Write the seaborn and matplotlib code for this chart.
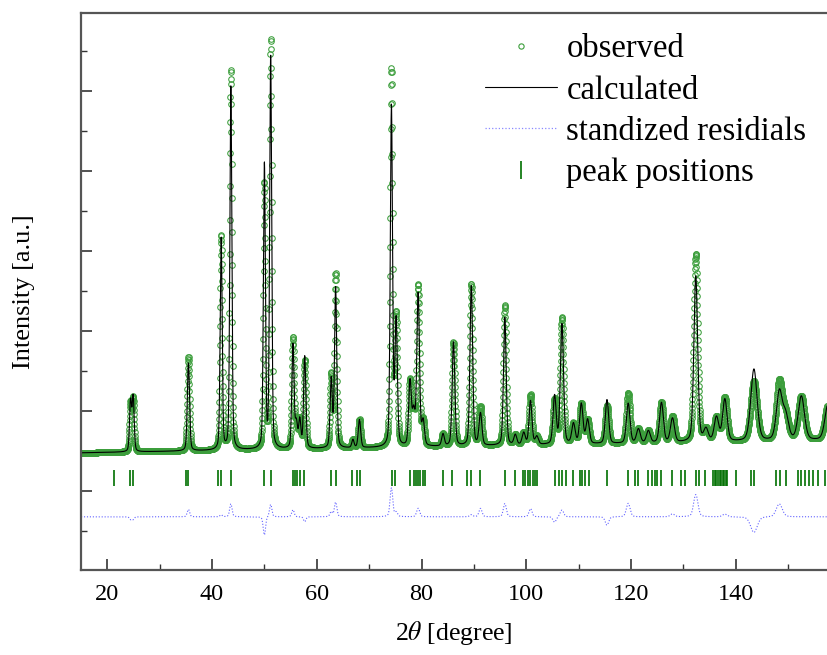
import numpy as np
import seaborn as sns
import matplotlib
matplotlib.use("Agg")
import matplotlib.pyplot as plt
from matplotlib.lines import Line2D
from matplotlib.ticker import MultipleLocator

# --- refined profile parameters (intensity in 1000 counts) ---
prof_pos = [24.45, 24.95, 35.5, 41.75, 43.6, 50.0, 51.2, 55.45, 56.1, 56.75,
            57.7, 62.75, 63.6, 66.9, 68.15, 74.25, 75.15, 77.8, 78.5, 79.35,
            80.3, 84.1, 86.1, 89.5, 91.25, 95.9, 97.9, 99.5, 100.8, 102.0,
            105.4, 106.8, 109.0, 110.5, 111.7, 115.4, 119.45, 121.4, 123.3, 125.8,
            127.9, 132.35, 134.3, 136.3, 137.9, 143.45, 148.3, 149.5, 152.5, 157.6]
calc_height = [1.25, 1.35, 2.2, 5.3, 9.1, 7.1, 9.8, 2.6, 0.6, 0.7,
               2.3, 1.7, 4.0, 0.2, 0.7, 8.5, 3.1, 1.6, 0.8, 3.8,
               0.6, 0.3, 2.6, 4.0, 0.8, 3.2, 0.25, 0.3, 1.1, 0.2,
               1.2, 3.0, 0.5, 1.0, 0.6, 1.1, 1.0, 0.35, 0.3, 1.0,
               0.6, 4.15, 0.3, 0.6, 1.05, 1.8, 1.2, 0.6, 1.1, 0.9]
obs_height = [1.2, 1.3, 2.35, 5.35, 9.5, 6.6, 10.2, 2.75, 0.6, 0.7,
              2.2, 1.8, 4.35, 0.2, 0.7, 9.4, 3.2, 1.6, 0.8, 4.0,
              0.6, 0.3, 2.6, 4.05, 0.95, 3.5, 0.25, 0.3, 1.25, 0.2,
              1.1, 3.15, 0.5, 1.0, 0.6, 0.95, 1.25, 0.35, 0.3, 1.0,
              0.65, 4.7, 0.3, 0.6, 1.1, 1.5, 1.45, 0.6, 1.1, 0.9]
prof_fwhm = [0.45, 0.45, 0.5, 0.45, 0.45, 0.45, 0.45, 0.5, 0.5, 0.5,
             0.5, 0.5, 0.5, 0.5, 0.55, 0.5, 0.55, 0.6, 0.6, 0.6,
             0.6, 0.6, 0.6, 0.6, 0.65, 0.6, 0.65, 0.7, 0.65, 0.7,
             0.7, 0.7, 0.75, 0.75, 0.75, 0.75, 0.8, 0.85, 0.85, 0.85,
             0.9, 0.85, 1.0, 1.0, 1.0, 1.4, 1.3, 1.3, 1.4, 1.4]
bg_coef = [2.95, 0.0022]  # linear background (1000 counts), slope per degree

# Bragg reflection positions (tick marks)
peak_positions = [21.2, 24.4, 24.9, 35.1, 35.4, 41.1, 41.75, 43.6, 50.0, 51.2,
                  55.4, 55.85, 56.3, 56.75, 57.6, 62.7, 63.6, 66.7, 67.6, 68.2,
                  74.3, 75.0, 77.8, 78.5, 78.9, 79.35, 79.8, 80.3, 80.75, 84.1,
                  85.9, 88.6, 89.35, 91.2, 95.9, 97.9, 99.4, 99.8, 100.3, 100.75,
                  101.2, 101.65, 102.1, 105.5, 106.2, 106.8, 107.6, 108.9, 110.3, 110.7,
                  111.2, 111.9, 115.4, 119.4, 120.75, 121.4, 123.2, 123.9, 124.6, 125.0,
                  125.75, 127.9, 129.6, 130.3, 132.3, 133.0, 134.1, 135.7, 136.0, 136.3,
                  136.6, 136.9, 137.2, 137.5, 137.8, 138.1, 138.4, 140.1, 142.8, 143.5,
                  147.6, 148.5, 149.6, 151.9, 152.5, 153.2, 153.9, 154.8, 155.75, 157.1]

two_theta = np.arange(15.0, 157.6, 0.03)


def pseudo_voigt(x, x0, h, w, eta=0.3):
    d = (x - x0) / w
    return h * (eta / (1 + 4 * d ** 2) + (1 - eta) * np.exp(-4 * np.log(2) * d ** 2))


def profile(heights):
    y = bg_coef[0] + bg_coef[1] * (two_theta - 15)
    for x0, h, w in zip(prof_pos, heights, prof_fwhm):
        y = y + pseudo_voigt(two_theta, x0, h, w)
    return y * 1000


y_calc = profile(calc_height)
y_obs = profile(obs_height)
# standardized residuals, drawn with an offset below the tick marks
resid = (y_obs - y_calc) / np.sqrt(y_obs)
resid_plot = 1350 + 90 * resid

sns.set_style("ticks")
plt.rcParams["font.family"] = ["Liberation Serif", "DejaVu Serif"]
plt.rcParams["mathtext.fontset"] = "stix"
plt.rcParams["text.color"] = "black"
plt.rcParams["axes.labelcolor"] = "black"
plt.rcParams["xtick.labelcolor"] = "black"

fig = plt.figure(figsize=(8.27, 6.55), dpi=100)
ax = fig.add_axes([0.098, 0.1298, 0.902, 0.8502])

obs_color = "#3c9e3c"
tick_color = "#007000"
res_color = "#3a3aff"

sns.lineplot(x=two_theta, y=y_obs, ax=ax, estimator=None, sort=False,
             linestyle="", marker="o", markersize=4.0, markerfacecolor="none",
             markeredgecolor=obs_color, markeredgewidth=0.75, color=obs_color)
sns.lineplot(x=two_theta, y=y_calc, ax=ax, estimator=None, sort=False,
             color="black", linewidth=0.8)
sns.lineplot(x=two_theta, y=resid_plot, ax=ax, estimator=None, sort=False,
             color=res_color, linewidth=0.8, linestyle=":", alpha=0.8)
ax.vlines(peak_positions, 2120, 2520, color=tick_color, linewidth=1.2)

ax.set_xlim(15, 157.4)
ax.set_ylim(20, 13950)
ax.xaxis.set_major_locator(MultipleLocator(20))
ax.xaxis.set_minor_locator(MultipleLocator(10))
ax.yaxis.set_major_locator(MultipleLocator(2000))
ax.yaxis.set_minor_locator(MultipleLocator(1000))
ax.tick_params(axis="both", which="major", direction="in", length=8, width=1.2,
               color="#333333", labelsize=17.5, labelcolor="black")
ax.tick_params(axis="both", which="minor", direction="in", length=4, width=1.0,
               color="#333333")
ax.tick_params(axis="y", which="both", labelleft=False)
ax.tick_params(axis="x", pad=10)

for side in ["left", "bottom", "top"]:
    ax.spines[side].set_linewidth(1.6)
    ax.spines[side].set_color("#555555")
ax.spines["right"].set_visible(False)

ax.set_xlabel("2$\\theta$ [degree]", fontsize=18.5, labelpad=10)
ax.set_ylabel("Intensity [a.u.]", fontsize=19, labelpad=33)

handles = [
    Line2D([], [], linestyle="", marker="o", markersize=3.8, markerfacecolor="none",
           markeredgecolor=obs_color, markeredgewidth=0.8),
    Line2D([], [], color="black", linewidth=0.8),
    Line2D([], [], color=res_color, linewidth=0.9, linestyle=":", alpha=0.6),
    Line2D([], [], linestyle="", marker="|", markersize=13, markeredgewidth=1.2,
           color=tick_color),
]
labels = ["observed", "calculated", "standized residials", "peak positions"]
ax.legend(handles, labels, loc="upper left", bbox_to_anchor=(0.515, 0.998),
          frameon=False, fontsize=23.5, handlelength=2.2, handletextpad=0.3,
          labelspacing=0.33, borderpad=0.1)

fig.savefig("out.png", dpi=100)
